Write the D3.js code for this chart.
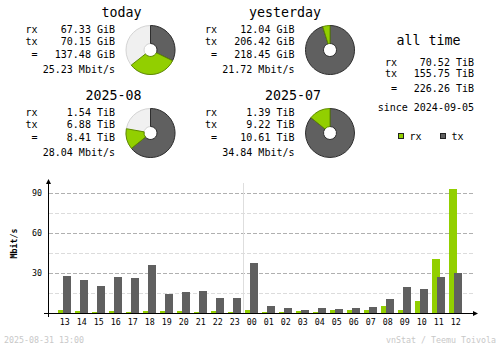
<!DOCTYPE html>
<html>
<head>
<meta charset="utf-8">
<script src="https://cdn.jsdelivr.net/npm/d3@7/dist/d3.min.js"></script>
<style>
  html, body { margin: 0; padding: 0; background: #ffffff; }
  svg { display: block; }
  text { font-family: "DejaVu Sans Mono", "Liberation Mono", monospace; fill: #000; }
</style>
</head>
<body>
<svg id="chart" width="500" height="348"></svg>
<script>
// ---- summary blocks ----
const periodTitles = ["today", "yesterday", "2025-08", "2025-07"];
const rxTexts = ["67.33 GiB", "12.04 GiB", "1.54 TiB", "1.39 TiB"];
const txTexts = ["70.15 GiB", "206.42 GiB", "6.88 TiB", "9.22 TiB"];
const totalTexts = ["137.48 GiB", "218.45 GiB", "8.41 TiB", "10.61 TiB"];
const rateTexts = ["25.23 Mbit/s", "21.72 Mbit/s", "28.04 Mbit/s", "34.84 Mbit/s"];
// share of the full circle (read from the donuts)
const txShare = [0.322, 0.952, 0.642, 0.858];
const rxShare = [0.322, 0.048, 0.136, 0.142];

// ---- all time ----
const allTimeTitle = "all time";
const allTimeRx = "70.52 TiB";
const allTimeTx = "155.75 TiB";
const allTimeTotal = "226.26 TiB";
const allTimeSince = "since 2024-09-05";
const legendLabels = ["rx", "tx"];

// ---- hourly chart ----
const hours = ["13","14","15","16","17","18","19","20","21","22","23",
               "00","01","02","03","04","05","06","07","08","09","10","11","12"];
const rxRate = [2.5, 1.75, 1, 1.75, 1, 1.75, 1.75, 1.75, 1, 1.75, 1,
                2.5, 1, 1, 1.75, 1, 2.5, 2.5, 2.5, 5.5, 2.5, 9.25, 40.75, 93.25];
const txRate = [27.5, 25, 20, 26.75, 26, 36.25, 14, 16, 16.75, 11, 11,
                37.75, 5.5, 4, 2.5, 4, 3.25, 4, 4.75, 10.75, 19.75, 18.25, 27.25, 30.25];
const yMajorTicks = [30, 60, 90];
const yMinorTicks = [15, 45, 75];
const yAxisTitle = "Mbit/s";
const footerLeft = "2025-08-31 13:00";
const footerRight = "vnStat / Teemu Toivola";

const RX = "#92cf00", TX = "#606060", BGP = "#f0f0f0";
const svg = d3.select("#chart");

// ---------- summary blocks ----------
const blockX = [0, 179.5, 0, 179.5];
const blockY = [0, 0, 83, 83];
const arc = d3.arc().innerRadius(6.5).outerRadius(24.5);

periodTitles.forEach((t, i) => {
  const g = svg.append("g").attr("transform", `translate(${blockX[i]},${blockY[i]})`);
  g.append("text").attr("x", 141.5).attr("y", 16.5).attr("text-anchor", "end")
    .style("font-size", "13.3px").text(t);
  const rows = [["rx", rxTexts[i], 32.5], ["tx", txTexts[i], 44.5], ["=", totalTexts[i], 57.7]];
  rows.forEach(([lab, val, yy]) => {
    g.append("text").attr("x", lab === "=" ? 31.5 : 25.5).attr("y", yy)
      .style("font-size", "10px").text(lab);
    g.append("text").attr("x", 115).attr("y", yy).attr("text-anchor", "end")
      .style("font-size", "10px").text(val);
  });
  g.append("text").attr("x", 115).attr("y", 72.5).attr("text-anchor", "end")
    .style("font-size", "10px").text(rateTexts[i]);

  const pg = g.append("g").attr("transform", "translate(150.5,50)");
  const txEnd = txShare[i] * 2 * Math.PI;
  const rxEnd = txEnd + rxShare[i] * 2 * Math.PI;
  if (rxEnd < 2 * Math.PI - 0.001) {
    pg.append("path").attr("d", arc({startAngle: 0, endAngle: 2 * Math.PI}))
      .attr("fill", BGP).attr("stroke", "#d4d4d4").attr("stroke-width", 1);
  }
  pg.append("path").attr("d", arc({startAngle: 0, endAngle: txEnd}))
    .attr("fill", TX).attr("stroke", "#2e2e2e").attr("stroke-width", 1);
  pg.append("path").attr("d", arc({startAngle: txEnd, endAngle: rxEnd}))
    .attr("fill", RX).attr("stroke", "#5f8a00").attr("stroke-width", 1);
});

// ---------- all time ----------
const at = svg.append("g");
at.append("text").attr("x", 396.5).attr("y", 45).style("font-size", "13.3px").text(allTimeTitle);
[["rx", allTimeRx, 65.7], ["tx", allTimeTx, 77], ["=", allTimeTotal, 91.5]].forEach(([lab, val, yy]) => {
  at.append("text").attr("x", lab === "=" ? 391 : 385).attr("y", yy).style("font-size", "10px").text(lab);
  at.append("text").attr("x", 474).attr("y", yy).attr("text-anchor", "end").style("font-size", "10px").text(val);
});
at.append("text").attr("x", 474).attr("y", 110.5).attr("text-anchor", "end").style("font-size", "10px").text(allTimeSince);
const legX = [398.5, 440.5];
legendLabels.forEach((l, i) => {
  at.append("rect").attr("x", legX[i]).attr("y", 133.5).attr("width", 5).attr("height", 5)
    .attr("fill", i === 0 ? RX : TX).attr("stroke", "#222").attr("stroke-width", 1)
    .attr("shape-rendering", "crispEdges");
  at.append("text").attr("x", legX[i] + 11).attr("y", 139.5).style("font-size", "10px").text(l);
});

// ---------- hourly chart ----------
const base = 313;
const y = d3.scaleLinear().domain([0, 90]).range([base, 193]);
const x = d3.scaleBand().domain(hours).range([58, 466]).paddingInner(0).paddingOuter(0);
const cg = svg.append("g").attr("shape-rendering", "crispEdges");

yMinorTicks.forEach(v => {
  cg.append("line").attr("x1", 49).attr("x2", 473).attr("y1", y(v) + 0.5).attr("y2", y(v) + 0.5)
    .attr("stroke", "#dcdcdc").attr("stroke-dasharray", "4,2");
});
yMajorTicks.forEach(v => {
  cg.append("line").attr("x1", 49).attr("x2", 473).attr("y1", y(v) + 0.5).attr("y2", y(v) + 0.5)
    .attr("stroke", "#b0b0b0").attr("stroke-dasharray", "4,2");
});
// day boundary line
cg.append("line").attr("x1", x("00") - 2 + 0.5).attr("x2", x("00") - 2 + 0.5)
  .attr("y1", 183).attr("y2", base).attr("stroke", "#dedede");

hours.forEach((h, i) => {
  cg.append("rect").attr("x", x(h)).attr("width", 8)
    .attr("y", Math.round(y(rxRate[i]))).attr("height", base - Math.round(y(rxRate[i])))
    .attr("fill", RX);
  cg.append("rect").attr("x", x(h) + 5).attr("width", 8)
    .attr("y", Math.round(y(txRate[i]))).attr("height", base - Math.round(y(txRate[i])))
    .attr("fill", TX);
  svg.append("text").attr("x", x(h) + 6.8).attr("y", 324.5).attr("text-anchor", "middle")
    .style("font-size", "8.3px").text(h);
});

// axes
cg.append("line").attr("x1", 48.5).attr("x2", 48.5).attr("y1", 181).attr("y2", 317).attr("stroke", "#000");
cg.append("line").attr("x1", 44).attr("x2", 476).attr("y1", base + 0.5).attr("y2", base + 0.5).attr("stroke", "#000");
svg.append("path").attr("d", "M46,184 L51,184 L48.5,179 Z").attr("fill", "#000");
svg.append("path").attr("d", "M473,311 L473,316 L478,313.5 Z").attr("fill", "#000");

yMajorTicks.forEach(v => {
  svg.append("text").attr("x", 42).attr("y", y(v) + 3).attr("text-anchor", "end")
    .style("font-size", "8.3px").text(String(v));
});
svg.append("text").attr("transform", "translate(17,243.5) rotate(-90)").attr("text-anchor", "middle")
  .style("font-size", "8.3px").style("font-weight", "bold").text(yAxisTitle);

// footer
svg.append("text").attr("x", 4).attr("y", 343).style("font-size", "8.3px").style("fill", "#c8c8c8").text(footerLeft);
svg.append("text").attr("x", 496).attr("y", 343).attr("text-anchor", "end").style("font-size", "8.3px").style("fill", "#c8c8c8").text(footerRight);
</script>
</body>
</html>
